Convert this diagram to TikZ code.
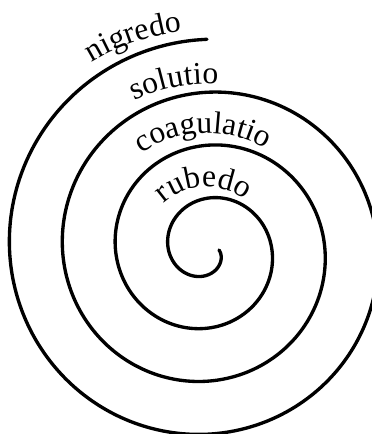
\documentclass[tikz,border=0pt]{standalone}
\usepackage{fontspec}
\setmainfont{Liberation Serif}
\usepackage{tikz}
\usetikzlibrary{decorations.text}

\begin{document}
\begin{tikzpicture}[
    scale=0.02,
    spiral/.style={line width=1.9pt, line cap=round},
    stage/.style={decorate, decoration={text along path, text align=center,
        text={|\fontsize{18}{18}\selectfont|#1}}},
]
\useasboundingbox (-207,-184) rectangle (165,250);
% the spiral, from the inner end outwards
\draw[spiral] plot[domain=0:1350, samples=400, smooth, variable=\t]
    ({(12+\t*0.1472)*cos(-\t)}, {(12+\t*0.1472)*sin(-\t)});
% stage names, each on an arc above its turn
\path[stage=nigredo] (149:220) arc[start angle=149, end angle=69, radius=220];
\path[stage=solutio] (141:166) arc[start angle=141, end angle=61, radius=166];
\path[stage=coagulatio] (142:117) arc[start angle=142, end angle=42, radius=117];
\path[stage=rubedo] (143:63) arc[start angle=143, end angle=43, radius=63];
\end{tikzpicture}
\end{document}
